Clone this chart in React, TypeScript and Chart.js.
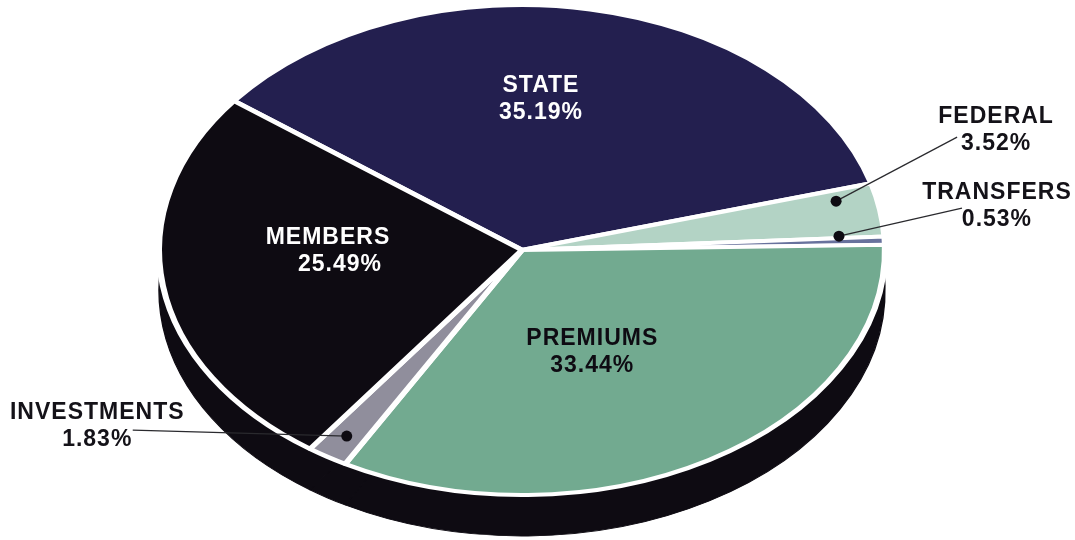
import React, { useEffect, useRef } from "react";
import { Chart, registerables } from "chart.js";

Chart.register(...registerables);

// ---- data ----
const categories = ["STATE", "FEDERAL", "TRANSFERS", "PREMIUMS", "INVESTMENTS", "MEMBERS"];
const shares = [35.19, 3.52, 0.53, 33.44, 1.83, 25.49];
const sliceColors = ["#231f4f", "#b3d3c5", "#68729d", "#72aa90", "#908e9c", "#0e0b12"];

// ---- styling / layout ----
const DEPTH_COLOR = "#0e0b12";
const GEOM = { cx: 522, cy: 250, rx: 363, ry: 245, depth: 41 };
const FONT = "bold 23px 'Liberation Sans', Arial, Helvetica, sans-serif";
const LINE_GAP = 27;

type Inside = { kind: "in"; f: number; da: number; color: string; dx1: number; dx2: number };
type Outside = {
  kind: "out";
  f: number;
  da: number;
  tx: number;
  ty: number;
  lx: number;
  ly: number;
};
const labelLayout: Record<string, Inside | Outside> = {
  STATE: { kind: "in", f: 0.618, da: -6.0, color: "#ffffff", dx1: 0, dx2: 0 },
  MEMBERS: { kind: "in", f: 0.518, da: 8.0, color: "#ffffff", dx1: -6, dx2: 6 },
  PREMIUMS: { kind: "in", f: 0.459, da: 6.1, color: "#0e0b12", dx1: 0, dx2: 0 },
  FEDERAL: { kind: "out", f: 0.888, da: -3.5, tx: 160, ty: -71, lx: -39, ly: 7 },
  TRANSFERS: { kind: "out", f: 0.875, da: -1.5, tx: 158, ty: -30, lx: -35, ly: 2 },
  INVESTMENTS: { kind: "out", f: 0.9, da: 0, tx: -249.5, ty: -9.5, lx: 35.5, ly: 3.5 },
};

function applyTransform(ctx: CanvasRenderingContext2D, chart: any, dy: number) {
  const arc = chart.getDatasetMeta(0).data[0];
  const { x, y, outerRadius } = arc.getProps(["x", "y", "outerRadius"], true);
  ctx.translate(GEOM.cx, GEOM.cy + dy);
  ctx.scale(GEOM.rx / outerRadius, GEOM.ry / outerRadius);
  ctx.translate(-x, -y);
}

function ellipsePoint(angle: number, f: number) {
  return {
    x: GEOM.cx + GEOM.rx * f * Math.cos(angle),
    y: GEOM.cy + GEOM.ry * f * Math.sin(angle),
  };
}

const pie3dPlugin = {
  id: "pie3d",
  beforeDatasetsDraw(chart: any) {
    const ctx: CanvasRenderingContext2D = chart.ctx;
    const meta = chart.getDatasetMeta(0);
    ctx.save();
    applyTransform(ctx, chart, GEOM.depth);
    meta.data.forEach((el: any) => {
      const orig = el.options;
      el.options = {
        ...orig,
        backgroundColor: DEPTH_COLOR,
        borderColor: DEPTH_COLOR,
        borderWidth: 1,
      };
      el.draw(ctx);
      el.options = orig;
    });
    ctx.restore();
    ctx.save();
    applyTransform(ctx, chart, 0);
  },
  afterDatasetsDraw(chart: any) {
    const ctx: CanvasRenderingContext2D = chart.ctx;
    ctx.restore();
    const meta = chart.getDatasetMeta(0);
    ctx.save();
    ctx.font = FONT;
    (ctx as any).letterSpacing = "1px";
    ctx.textAlign = "center";
    ctx.textBaseline = "middle";
    meta.data.forEach((el: any, i: number) => {
      const name = categories[i];
      const pct = shares[i].toFixed(2) + "%";
      const lay = labelLayout[name];
      const { startAngle, endAngle } = el.getProps(["startAngle", "endAngle"], true);
      const mid = (startAngle + endAngle) / 2 + (lay.da * Math.PI) / 180;
      const p = ellipsePoint(mid, lay.f);
      if (lay.kind === "in") {
        ctx.fillStyle = lay.color;
        ctx.fillText(name, p.x + lay.dx1, p.y - LINE_GAP / 2);
        ctx.fillText(pct, p.x + lay.dx2, p.y + LINE_GAP / 2);
      } else {
        const tx = p.x + lay.tx;
        const ty = p.y + lay.ty;
        ctx.strokeStyle = "#2a2a2e";
        ctx.lineWidth = 1.2;
        ctx.beginPath();
        ctx.moveTo(p.x, p.y);
        ctx.lineTo(tx + lay.lx, ty + lay.ly);
        ctx.stroke();
        ctx.fillStyle = "#0e0b12";
        ctx.beginPath();
        ctx.arc(p.x, p.y, 5.5, 0, Math.PI * 2);
        ctx.fill();
        ctx.fillStyle = "#141218";
        ctx.fillText(name, tx, ty - LINE_GAP / 2);
        ctx.fillText(pct, tx, ty + LINE_GAP / 2);
      }
    });
    ctx.restore();
  },
};

export default function App() {
  const canvasRef = useRef<HTMLCanvasElement | null>(null);

  useEffect(() => {
    if (!canvasRef.current) return;
    const chart = new Chart(canvasRef.current, {
      type: "pie",
      data: {
        labels: categories,
        datasets: [
          {
            data: shares,
            backgroundColor: sliceColors,
            borderColor: "#ffffff",
            borderWidth: 4.5,
            clip: false as any,
          } as any,
        ],
      },
      options: {
        animation: false,
        responsive: true,
        maintainAspectRatio: false,
        rotation: -52.5,
        events: [],
        layout: { padding: 0 },
        plugins: {
          legend: { display: false },
          tooltip: { enabled: false },
        },
      },
      plugins: [pie3dPlugin],
    });
    return () => chart.destroy();
  }, []);

  return (
    <div
      style={{
        position: "fixed",
        left: 0,
        top: 0,
        width: 1075,
        height: 540,
        background: "#ffffff",
      }}
    >
      <canvas ref={canvasRef} style={{ display: "block" }} />
    </div>
  );
}
